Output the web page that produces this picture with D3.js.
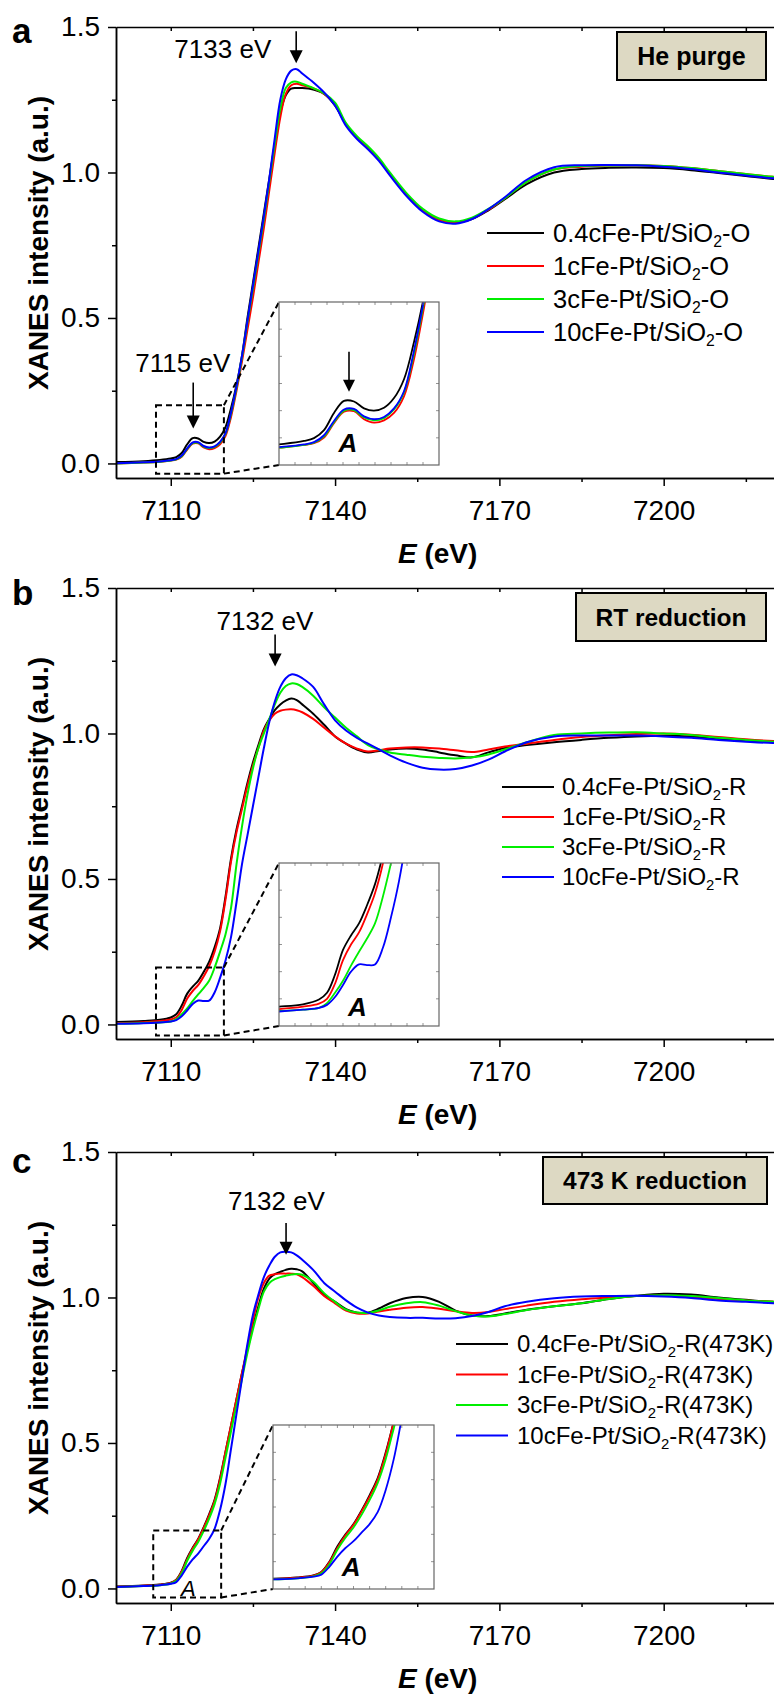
<!DOCTYPE html>
<html><head><meta charset="utf-8">
<script src="https://cdn.jsdelivr.net/npm/d3@7"></script>
<style>
body{margin:0;background:#fff}
svg{display:block}
text{font-family:"Liberation Sans",Arial,Helvetica,sans-serif;fill:#000}
</style>
</head><body>
<svg id="chart" width="774" height="1695"></svg>
<script>
// ---------------- DATA ----------------
const energy = [7100,7105,7108,7110,7111,7112,7113,7114,7115,7116,7117,7118,7119,7120,7121,7122,7123,7124,7125,7126,7127,7128,7129,7130,7131,7132,7133,7134,7136,7138,7140,7142,7144,7146,7148,7150,7153,7156,7159,7162,7165,7168,7171,7175,7180,7185,7190,7195,7200,7205,7210,7215,7220,7225,7230];

// panel a : He purge
const aBlack = [0.005,0.008,0.012,0.017,0.022,0.036,0.066,0.087,0.086,0.074,0.070,0.075,0.092,0.125,0.190,0.270,0.370,0.500,0.620,0.740,0.860,0.980,1.100,1.205,1.265,1.288,1.290,1.290,1.285,1.270,1.230,1.165,1.120,1.085,1.045,0.995,0.925,0.870,0.838,0.828,0.840,0.870,0.908,0.960,1.000,1.012,1.016,1.017,1.015,1.008,0.998,0.988,0.978,0.970,0.965];
const aRed   = [0.000,0.003,0.006,0.010,0.013,0.023,0.048,0.068,0.069,0.055,0.049,0.053,0.066,0.095,0.160,0.250,0.350,0.460,0.570,0.690,0.810,0.940,1.070,1.190,1.270,1.300,1.305,1.300,1.290,1.270,1.235,1.165,1.120,1.085,1.045,0.995,0.925,0.870,0.838,0.828,0.842,0.872,0.912,0.968,1.010,1.020,1.024,1.025,1.022,1.015,1.005,0.995,0.985,0.977,0.970];
const aGreen = [0.000,0.003,0.006,0.010,0.014,0.025,0.050,0.070,0.071,0.058,0.053,0.057,0.072,0.102,0.170,0.260,0.365,0.485,0.600,0.720,0.840,0.970,1.100,1.220,1.290,1.310,1.312,1.305,1.290,1.272,1.240,1.170,1.125,1.090,1.050,1.000,0.930,0.875,0.842,0.832,0.845,0.875,0.912,0.968,1.010,1.022,1.024,1.025,1.022,1.015,1.005,0.995,0.985,0.977,0.970];
const aBlue  = [0.001,0.004,0.007,0.011,0.015,0.027,0.052,0.072,0.073,0.060,0.055,0.059,0.074,0.104,0.175,0.265,0.370,0.490,0.610,0.730,0.850,0.980,1.120,1.250,1.320,1.350,1.355,1.340,1.310,1.275,1.230,1.160,1.115,1.080,1.040,0.990,0.920,0.865,0.832,0.824,0.840,0.874,0.915,0.975,1.018,1.025,1.026,1.025,1.020,1.012,1.000,0.990,0.980,0.972,0.966];

// panel b : RT reduction
const bBlack = [0.008,0.012,0.016,0.024,0.035,0.065,0.106,0.130,0.150,0.180,0.215,0.265,0.330,0.440,0.570,0.670,0.750,0.830,0.900,0.960,1.015,1.050,1.080,1.100,1.113,1.120,1.115,1.100,1.068,1.030,0.990,0.965,0.945,0.935,0.940,0.945,0.948,0.945,0.935,0.925,0.918,0.935,0.950,0.960,0.970,0.978,0.985,0.990,0.992,0.990,0.982,0.975,0.970,0.968,0.966];
const bRed   = [0.005,0.008,0.012,0.017,0.025,0.050,0.089,0.115,0.135,0.165,0.200,0.250,0.320,0.430,0.560,0.660,0.740,0.820,0.890,0.950,1.010,1.045,1.068,1.078,1.082,1.083,1.080,1.073,1.050,1.020,0.990,0.965,0.948,0.938,0.942,0.948,0.952,0.952,0.948,0.942,0.936,0.945,0.955,0.965,0.978,0.988,0.994,0.998,1.000,0.996,0.988,0.980,0.974,0.970,0.968];
const bGreen = [0.002,0.005,0.007,0.010,0.018,0.035,0.055,0.080,0.103,0.125,0.150,0.195,0.250,0.310,0.400,0.550,0.680,0.790,0.880,0.950,1.000,1.050,1.100,1.140,1.163,1.172,1.170,1.160,1.130,1.090,1.055,1.020,0.990,0.960,0.945,0.935,0.927,0.920,0.916,0.914,0.918,0.928,0.945,0.970,0.995,1.000,1.003,1.004,1.000,0.995,0.985,0.978,0.972,0.969,0.967];
const bBlue  = [0.002,0.004,0.007,0.010,0.015,0.028,0.048,0.070,0.082,0.081,0.082,0.110,0.160,0.220,0.300,0.420,0.550,0.650,0.750,0.850,0.950,1.040,1.110,1.160,1.190,1.203,1.200,1.190,1.160,1.100,1.045,1.010,0.985,0.965,0.945,0.925,0.900,0.882,0.876,0.878,0.890,0.910,0.938,0.970,0.990,0.993,0.993,0.993,0.990,0.985,0.978,0.972,0.967,0.965,0.964];

// panel c : 473 K reduction
const cBlack = [0.007,0.010,0.014,0.020,0.030,0.060,0.105,0.140,0.170,0.210,0.255,0.305,0.380,0.470,0.560,0.650,0.740,0.820,0.900,0.970,1.030,1.065,1.080,1.088,1.095,1.099,1.097,1.090,1.050,1.010,0.985,0.960,0.948,0.948,0.962,0.980,0.998,1.002,0.985,0.955,0.938,0.936,0.945,0.958,0.970,0.980,0.995,1.006,1.013,1.010,1.000,0.992,0.985,0.983,0.982];
const cRed   = [0.006,0.009,0.013,0.019,0.029,0.058,0.100,0.137,0.168,0.207,0.250,0.300,0.375,0.470,0.560,0.650,0.740,0.830,0.920,1.000,1.050,1.075,1.080,1.082,1.082,1.082,1.080,1.070,1.040,1.005,0.980,0.955,0.945,0.945,0.952,0.958,0.965,0.967,0.961,0.953,0.947,0.950,0.960,0.972,0.985,0.994,1.000,1.005,1.006,1.002,0.995,0.990,0.985,0.983,0.982];
const cGreen = [0.005,0.008,0.011,0.017,0.026,0.052,0.095,0.130,0.160,0.197,0.240,0.290,0.360,0.450,0.540,0.630,0.720,0.810,0.890,0.960,1.020,1.050,1.063,1.070,1.075,1.079,1.081,1.078,1.055,1.015,0.985,0.958,0.948,0.947,0.955,0.968,0.980,0.984,0.972,0.953,0.938,0.935,0.943,0.957,0.970,0.980,0.995,1.005,1.008,1.005,0.998,0.990,0.985,0.983,0.982];
const cBlue  = [0.005,0.008,0.011,0.016,0.022,0.045,0.075,0.100,0.120,0.145,0.170,0.205,0.270,0.360,0.480,0.600,0.720,0.840,0.940,1.010,1.070,1.110,1.140,1.155,1.157,1.155,1.145,1.130,1.095,1.050,1.020,0.990,0.965,0.948,0.938,0.933,0.930,0.930,0.928,0.929,0.936,0.950,0.970,0.985,0.997,1.003,1.005,1.006,1.003,0.998,0.990,0.985,0.980,0.978,0.977];

const seriesColors = ["#000000","#ff0000","#00ee00","#0000ff"];
const legendA = [["0.4cFe-Pt/SiO","2","-O"],["1cFe-Pt/SiO","2","-O"],["3cFe-Pt/SiO","2","-O"],["10cFe-Pt/SiO","2","-O"]];
const legendB = [["0.4cFe-Pt/SiO","2","-R"],["1cFe-Pt/SiO","2","-R"],["3cFe-Pt/SiO","2","-R"],["10cFe-Pt/SiO","2","-R"]];
const legendC = [["0.4cFe-Pt/SiO","2","-R(473K)"],["1cFe-Pt/SiO","2","-R(473K)"],["3cFe-Pt/SiO","2","-R(473K)"],["10cFe-Pt/SiO","2","-R(473K)"]];
const xMajorTicks = [7110,7140,7170,7200];
const xMinorTicks = [7125,7155,7185,7215];
const yMajorTicks = [0.0,0.5,1.0,1.5];
const yMinorTicks = [0.25,0.75,1.25];
const panelLetters = ["a","b","c"];
const conditionLabels = ["He purge","RT reduction","473 K reduction"];
const peakLabels = ["7133 eV","7132 eV","7132 eV"];

// ---------------- LAYOUT ----------------
const svg = d3.select("#chart");
const FONT = '"Liberation Sans",Arial,Helvetica,sans-serif';
const PH = 451; // panel height (px)
const xRange = [116, 828];
const xDomain = [7100, 7230];
const yDomain = [-0.05, 1.5];

const panels = [
  {top:27, data:[aBlack,aRed,aGreen,aBlue], legend:legendA, lfs:25.5, lrow:33, lline:[487,544], ltext:553, ly0:206,
   box:[617,5,149,48], bfs:25, letterY:16,
   peak:{x:7132.9, y1:1.485, y2:1.375, tx:7119.5, ty:1.392},
   extra:{label:"7115 eV", x:7114.1, y1:0.278, y2:0.12, tx:7112.2, ty:0.313},
   dash:[7107.3,7119.7,-0.035,0.2],
   inset:{x:279, y:275, w:160, h:163, xd:[7107.5,7123.5], yd:[-0.025,0.26],
          A:[7114.4,-0.002], arrow:[7114.5,0.173,0.103]}},
  {top:588, data:[bBlack,bRed,bGreen,bBlue], legend:legendB, lfs:24, lrow:30, lline:[502,554], ltext:562, ly0:199,
   box:[576,5,190,48], bfs:24.5, letterY:17,
   peak:{x:7129.05, y1:1.34, y2:1.23, tx:7127.2, ty:1.357},
   dash:[7107.3,7119.7,-0.038,0.196],
   inset:{x:279, y:275, w:160, h:163, xd:[7105,7125], yd:[-0.02,0.25],
          A:[7114.8,-0.003]}},
  {top:1152, data:[cBlack,cRed,cGreen,cBlue], legend:legendC, lfs:24, lrow:30.5, lline:[456,508], ltext:517, ly0:192,
   box:[543,5,224,47], bfs:24.5, letterY:21,
   peak:{x:7131.05, y1:1.256, y2:1.147, tx:7129.3, ty:1.301},
   dash:[7106.8,7119.2,-0.031,0.199], smallA:[7113.2,-0.025],
   inset:{x:273, y:273, w:161, h:164, xd:[7105,7125], yd:[-0.02,0.46],
          A:[7114.7,0.018]}}
];

const x = d3.scaleLinear().domain(xDomain).range(xRange);

function arrow(g, xp, y1p, y2p, head=13, hw=6.5){
  g.append("line").attr("x1",xp).attr("x2",xp).attr("y1",y1p).attr("y2",y2p-head+1)
    .attr("stroke","#000").attr("stroke-width",1.6);
  g.append("path").attr("d",`M${xp-hw},${y2p-head} L${xp+hw},${y2p-head} L${xp},${y2p} Z`).attr("fill","#000");
}

panels.forEach((p,pi)=>{
  const g = svg.append("g");
  const top = p.top, bottom = top+PH;
  const y = d3.scaleLinear().domain(yDomain).range([bottom, top]);

  const clipId = "clip"+pi;
  svg.append("clipPath").attr("id",clipId).append("rect")
    .attr("x",116).attr("y",top).attr("width",774-116).attr("height",PH);

  // curves
  const line = d3.line().x((d,i)=>x(energy[i])).y(d=>y(d)).curve(d3.curveCatmullRom.alpha(0.5));
  const cg = g.append("g").attr("clip-path",`url(#${clipId})`);
  p.data.forEach((s,si)=>{
    cg.append("path").datum(s).attr("d",line).attr("fill","none")
      .attr("stroke",seriesColors[si]).attr("stroke-width",2).attr("stroke-linejoin","round");
  });

  // axes
  const axStyle = sel=>{ sel.selectAll("path,line").attr("stroke","#000").attr("stroke-width",1.5);
    sel.selectAll("text").attr("font-family",FONT).attr("font-size",28).attr("fill","#000"); };
  g.append("g").attr("transform",`translate(0,${bottom})`)
    .call(d3.axisBottom(x).tickValues(xMajorTicks).tickSize(8).tickSizeOuter(0).tickPadding(14).tickFormat(d3.format("d")))
    .call(axStyle);
  g.append("g").attr("transform",`translate(0,${bottom})`)
    .call(d3.axisBottom(x).tickValues(xMinorTicks).tickSize(4).tickSizeOuter(0).tickFormat(""))
    .call(axStyle);
  g.append("g").attr("transform",`translate(0,${top})`)
    .call(d3.axisTop(x).tickValues(xMajorTicks.concat(xMinorTicks)).tickSize(-4).tickSizeOuter(0).tickFormat(""))
    .call(axStyle);
  g.append("g").attr("transform",`translate(116,0)`)
    .call(d3.axisLeft(y).tickValues(yMajorTicks).tickSize(8).tickSizeOuter(0).tickPadding(8).tickFormat(d3.format(".1f")))
    .call(axStyle);
  g.append("g").attr("transform",`translate(116,0)`)
    .call(d3.axisLeft(y).tickValues(yMinorTicks).tickSize(4).tickSizeOuter(0).tickFormat(""))
    .call(axStyle);

  // axis titles
  g.append("text").attr("transform",`translate(48,${top+216}) rotate(-90)`).attr("text-anchor","middle")
    .attr("font-size",28).attr("font-weight","bold").text("XANES intensity (a.u.)");
  const xt = g.append("text").attr("x",398).attr("y",bottom+85).attr("font-size",28).attr("font-weight","bold");
  xt.append("tspan").attr("font-style","italic").text("E");
  xt.append("tspan").text(" (eV)");

  // panel letter
  g.append("text").attr("x",12).attr("y",top+p.letterY).attr("font-size",35).attr("font-weight","bold").text(panelLetters[pi]);

  // condition box
  g.append("rect").attr("x",p.box[0]).attr("y",top+p.box[1]).attr("width",p.box[2]).attr("height",p.box[3])
    .attr("fill","#ddd9c3").attr("stroke","#000").attr("stroke-width",2);
  g.append("text").attr("x",p.box[0]+p.box[2]/2).attr("y",top+p.box[1]+p.box[3]/2).attr("dy","0.36em")
    .attr("text-anchor","middle").attr("font-size",p.bfs).attr("font-weight","bold").text(conditionLabels[pi]);

  // legend
  p.legend.forEach((parts,i)=>{
    const ly = top+p.ly0+i*p.lrow;
    g.append("line").attr("x1",p.lline[0]).attr("x2",p.lline[1]).attr("y1",ly).attr("y2",ly)
      .attr("stroke",seriesColors[i]).attr("stroke-width",2);
    const t = g.append("text").attr("x",p.ltext).attr("y",ly+p.lfs*0.35).attr("font-size",p.lfs);
    t.append("tspan").text(parts[0]);
    t.append("tspan").attr("font-size",p.lfs*0.62).attr("dy",p.lfs*0.2).text(parts[1]);
    t.append("tspan").attr("dy",-p.lfs*0.2).text(parts[2]);
  });

  // peak annotation
  g.append("text").attr("x",x(p.peak.tx)).attr("y",y(p.peak.ty)).attr("text-anchor","middle")
    .attr("font-size",26).text(peakLabels[pi]);
  arrow(g, x(p.peak.x), y(p.peak.y1), y(p.peak.y2));
  if(p.extra){
    g.append("text").attr("x",x(p.extra.tx)).attr("y",y(p.extra.ty)).attr("text-anchor","middle")
      .attr("font-size",26).text(p.extra.label);
    arrow(g, x(p.extra.x), y(p.extra.y1), y(p.extra.y2));
  }

  // dashed zoom box
  const dx0=x(p.dash[0]), dx1=x(p.dash[1]), dy0=y(p.dash[2]), dy1=y(p.dash[3]);
  g.append("rect").attr("x",dx0).attr("y",dy1).attr("width",dx1-dx0).attr("height",dy0-dy1)
    .attr("fill","none").attr("stroke","#000").attr("stroke-width",2).attr("stroke-dasharray","6,4");
  if(p.smallA){
    g.append("text").attr("x",x(p.smallA[0])).attr("y",y(p.smallA[1])).attr("text-anchor","middle")
      .attr("font-size",22).attr("font-style","italic").attr("fill","#333").text("A");
  }

  // inset
  const I = p.inset;
  const ix0 = I.x, iy0 = top+I.y;
  g.append("line").attr("x1",dx1).attr("y1",dy1).attr("x2",ix0).attr("y2",iy0)
    .attr("stroke","#000").attr("stroke-width",2).attr("stroke-dasharray","6,4");
  g.append("line").attr("x1",dx1).attr("y1",dy0).attr("x2",ix0).attr("y2",iy0+I.h)
    .attr("stroke","#000").attr("stroke-width",2).attr("stroke-dasharray","6,4");
  g.append("rect").attr("x",ix0).attr("y",iy0).attr("width",I.w).attr("height",I.h).attr("fill","#fff");
  const ixs = d3.scaleLinear().domain(I.xd).range([ix0, ix0+I.w]);
  const iys = d3.scaleLinear().domain(I.yd).range([iy0+I.h, iy0]);
  const icid = "iclip"+pi;
  svg.append("clipPath").attr("id",icid).append("rect").attr("x",ix0).attr("y",iy0).attr("width",I.w).attr("height",I.h);
  const iline = d3.line().x((d,i)=>ixs(energy[i])).y(d=>iys(d)).curve(d3.curveCatmullRom.alpha(0.5));
  const ig = g.append("g").attr("clip-path",`url(#${icid})`);
  p.data.forEach((s,si)=>{
    ig.append("path").datum(s).attr("d",iline).attr("fill","none")
      .attr("stroke",seriesColors[si]).attr("stroke-width",1.8);
  });
  // inset frame & small ticks
  const tg = g.append("g").attr("stroke","#777").attr("stroke-width",0.8);
  for(let k=1;k<6;k++){ const yy = iy0 + I.h*k/6;
    tg.append("line").attr("x1",ix0).attr("x2",ix0+3).attr("y1",yy).attr("y2",yy);
    tg.append("line").attr("x1",ix0+I.w-3).attr("x2",ix0+I.w).attr("y1",yy).attr("y2",yy); }
  for(let k=1;k<10;k++){ const xx = ix0 + I.w*k/10;
    tg.append("line").attr("x1",xx).attr("x2",xx).attr("y1",iy0).attr("y2",iy0+3);
    tg.append("line").attr("x1",xx).attr("x2",xx).attr("y1",iy0+I.h-3).attr("y2",iy0+I.h); }
  g.append("rect").attr("x",ix0).attr("y",iy0).attr("width",I.w).attr("height",I.h)
    .attr("fill","none").attr("stroke","#666").attr("stroke-width",1.2);
  g.append("text").attr("x",ixs(I.A[0])).attr("y",iys(I.A[1])).attr("text-anchor","middle")
    .attr("font-size",26).attr("font-weight","bold").attr("font-style","italic").text("A");
  if(I.arrow){ arrow(g, ixs(I.arrow[0]), iys(I.arrow[1]), iys(I.arrow[2]), 12, 6); }
});
</script>
</body></html>
